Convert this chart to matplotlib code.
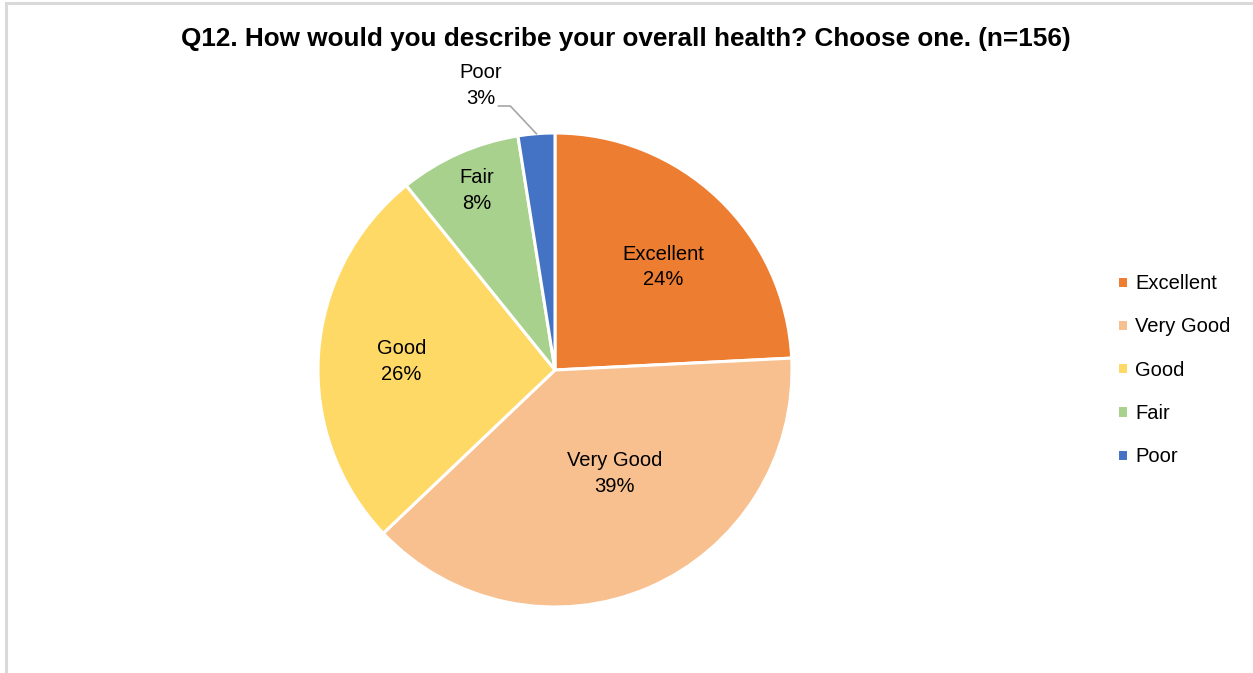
import numpy as np
import matplotlib.pyplot as plt
from matplotlib.patches import Rectangle

plt.rcParams['font.family'] = ['Liberation Sans', 'DejaVu Sans']

categories = ['Excellent', 'Very Good', 'Good', 'Fair', 'Poor']
shares = [24.2, 38.7, 26.3, 8.3, 2.5]
pct_labels = ['24%', '39%', '26%', '8%', '3%']
colors = ['#ED7D31', '#F8BF8F', '#FFD966', '#A9D18E', '#4472C4']

W, H = 1253, 673
fig = plt.figure(figsize=(W / 100, H / 100), dpi=100)

# chart frame
fig.patches.append(Rectangle((6 / W, -0.1), 1.2, 1 - 3 / H + 0.1, transform=fig.transFigure,
                             fill=False, edgecolor='#D9D9D9', linewidth=2.2))

cx, cy, r = 555, 370, 237
ax = fig.add_axes([(cx - r) / W, (H - cy - r) / H, 2 * r / W, 2 * r / H])
wedges, _ = ax.pie(shares, colors=colors, startangle=90, counterclock=False, radius=1,
                   wedgeprops=dict(edgecolor='white', linewidth=2.2))
ax.set_xlim(-1, 1)
ax.set_ylim(-1, 1)
ax.set_aspect('equal')
ax.axis('off')

# label placement (radius, angle tweak) per slice
lab_r = [0.63, 0.505, 0.648, 0.825]
lab_dang = [-2.8, 6.8, 0.5, -0.5]
for i in range(4):
    w = wedges[i]
    ang = np.deg2rad((w.theta1 + w.theta2) / 2 + lab_dang[i])
    ax.text(lab_r[i] * np.cos(ang), lab_r[i] * np.sin(ang),
            categories[i] + '\n' + pct_labels[i], ha='center', va='center',
            fontsize=14.5, color='#000000', linespacing=1.45)

# Poor: outside label with leader line
w = wedges[4]
ang = np.deg2rad((w.theta1 + w.theta2) / 2)
px, py = np.cos(ang), np.sin(ang)
ax.plot([px, px - 0.11, px - 0.16], [py, py + 0.117, py + 0.117],
        color='#A6A6A6', linewidth=1.2, clip_on=False)
ax.text(px - 0.236, py + 0.205, categories[4] + '\n' + pct_labels[4], ha='center', va='center',
        fontsize=14.5, color='#000000', linespacing=1.45)

fig.text(626 / W, 1 - 39 / H, 'Q12. How would you describe your overall health? Choose one. (n=156)',
         ha='center', va='center', fontsize=18.8, fontweight='bold', color='#000000')

leg = fig.legend(wedges, categories, loc='center left', bbox_to_anchor=(1099 / W, 1 - 370 / H),
                 frameon=False, fontsize=14.5, handlelength=0.55, handleheight=0.55,
                 handletextpad=0.35, labelspacing=1.2)

fig.savefig('out.png', dpi=100, facecolor='white')
